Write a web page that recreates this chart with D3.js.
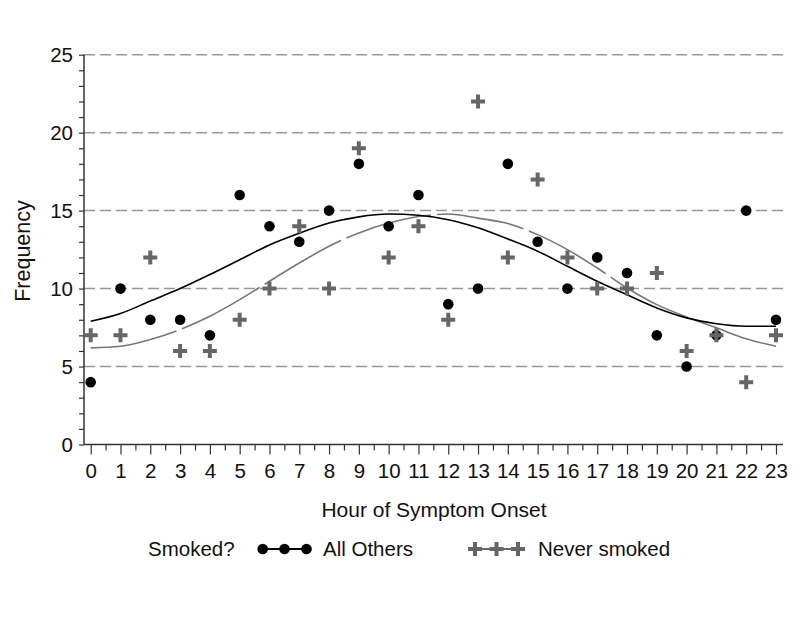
<!DOCTYPE html>
<html>
<head>
<meta charset="utf-8">
<script src="https://cdn.jsdelivr.net/npm/d3@7"></script>
<style>
  html, body { margin: 0; padding: 0; background: #fff; }
  svg { display: block; font-family: "Liberation Sans", Arial, sans-serif; }
</style>
</head>
<body>
<svg id="chart" width="800" height="618"></svg>
<script>
// ---- data ----
const hours = d3.range(0, 24);
const allOthers = [4, 10, 8, 8, 7, 16, 14, 13, 15, 18, 14, 16, 9, 10, 18, 13, 10, 12, 11, 7, 5, 7, 15, 8];
const neverSmoked = [7, 7, 12, 6, 6, 8, 10, 14, 10, 19, 12, 14, 8, 22, 12, 17, 12, 10, 10, 11, 6, 7, 4, 7];
// smoothed fits
const allOthersFit = [7.9, 8.4, 9.2, 10.0, 10.9, 11.85, 12.8, 13.55, 14.2, 14.6, 14.78, 14.7, 14.42, 13.9, 13.18, 12.4, 11.43, 10.47, 9.6, 8.76, 8.12, 7.74, 7.58, 7.58];
const neverSmokedFit = [6.2, 6.3, 6.73, 7.37, 8.22, 9.29, 10.47, 11.64, 12.71, 13.57, 14.2, 14.62, 14.78, 14.52, 14.17, 13.46, 12.5, 11.32, 10.04, 8.97, 8.18, 7.48, 6.78, 6.3];
const yTicks = [0, 5, 10, 15, 20, 25];
const yMinorTicks = d3.range(0, 26);
const xMinorTicks = d3.range(0, 23.01, 0.5);

const svg = d3.select("#chart");
const x = d3.scaleLinear().domain([0, 23]).range([90.7, 776]);
const y = d3.scaleLinear().domain([0, 25]).range([444.5, 54.7]);
const axisLeft = 84, axisRight = 783;
const grayMark = "#666666";
const textColor = "#111";

// gridlines
svg.append("g").selectAll("line").data(yTicks.filter(d => d > 0)).join("line")
  .attr("x1", axisLeft).attr("x2", axisRight)
  .attr("y1", d => y(d)).attr("y2", d => y(d))
  .attr("stroke", "#999").attr("stroke-width", 1.5)
  .attr("stroke-dasharray", "11,5");

// y axis
const yAxis = svg.append("g").attr("transform", `translate(${axisLeft},0)`)
  .call(d3.axisLeft(y).tickValues(yMinorTicks).tickSize(5).tickFormat(() => ""));
yAxis.select(".domain").attr("stroke", "#333").attr("stroke-width", 1.5).attr("d", `M0,${y(0)}V${y(25)}`);
yAxis.selectAll(".tick line").attr("stroke", "#333").attr("stroke-width", 1.2);
svg.append("g").selectAll("text").data(yTicks).join("text")
  .attr("x", 73).attr("y", d => y(d)).attr("dy", "0.36em")
  .attr("text-anchor", "end").attr("font-size", 20.5).attr("fill", textColor)
  .text(d => d);

// x axis
const xAxisG = svg.append("g").attr("transform", `translate(0,${y(0)})`);
xAxisG.append("line").attr("x1", axisLeft).attr("x2", axisRight).attr("y1", 0).attr("y2", 0)
  .attr("stroke", "#333").attr("stroke-width", 1.5);
xAxisG.call(g => g.append("g").call(d3.axisBottom(x).tickValues(xMinorTicks.filter(d => d % 1 !== 0)).tickSize(6).tickFormat(() => ""))
  .call(a => { a.select(".domain").remove(); a.selectAll(".tick line").attr("stroke", "#333").attr("stroke-width", 1.2); }));
xAxisG.call(g => g.append("g").call(d3.axisBottom(x).tickValues(hours).tickSize(10).tickPadding(9).tickFormat(d => d))
  .call(a => {
    a.select(".domain").remove();
    a.selectAll(".tick line").attr("stroke", "#333").attr("stroke-width", 1.2);
    a.selectAll(".tick text").attr("font-size", 20.5).attr("fill", textColor)
      .attr("font-family", "Liberation Sans, Arial, sans-serif");
  }));

// axis titles
svg.append("text").attr("x", 434).attr("y", 517).attr("text-anchor", "middle")
  .attr("font-size", 21).attr("fill", textColor).text("Hour of Symptom Onset");
svg.append("text").attr("transform", "translate(30,251) rotate(-90)").attr("text-anchor", "middle")
  .attr("font-size", 21.5).attr("fill", textColor).text("Frequency");

// fit curves
const line = d3.line().x((d, i) => x(hours[i])).y(d => y(d)).curve(d3.curveMonotoneX);
svg.append("path").attr("d", line(neverSmokedFit)).attr("fill", "none")
  .attr("stroke", "#777").attr("stroke-width", 1.6).attr("stroke-dasharray", "88,6");
svg.append("path").attr("d", line(allOthersFit)).attr("fill", "none")
  .attr("stroke", "#000").attr("stroke-width", 1.6);

// cross marker path
function crossPath(cx, cy, r) {
  return `M${cx - r},${cy}H${cx + r}M${cx},${cy - r}V${cy + r}`;
}

// points
svg.append("g").selectAll("circle").data(allOthers).join("circle")
  .attr("cx", (d, i) => x(hours[i])).attr("cy", d => y(d)).attr("r", 5.3).attr("fill", "#000");
svg.append("g").selectAll("path").data(neverSmoked).join("path")
  .attr("d", (d, i) => crossPath(x(hours[i]), y(d), 7))
  .attr("stroke", grayMark).attr("stroke-width", 4).attr("fill", "none");

// legend
const ly = 549;
svg.append("text").attr("x", 148).attr("y", ly).attr("dy", "0.36em").attr("font-size", 20.5).attr("fill", textColor).text("Smoked?");
const legendA = [262.7, 284.5, 306.5];
svg.append("line").attr("x1", legendA[0]).attr("x2", legendA[2]).attr("y1", ly).attr("y2", ly).attr("stroke", "#000").attr("stroke-width", 2);
svg.append("g").selectAll("circle").data(legendA).join("circle")
  .attr("cx", d => d).attr("cy", ly).attr("r", 5.3).attr("fill", "#000");
svg.append("text").attr("x", 323).attr("y", ly).attr("dy", "0.36em").attr("font-size", 20.5).attr("fill", textColor).text("All Others");
const legendB = [475, 496.5, 518];
svg.append("line").attr("x1", legendB[0]).attr("x2", legendB[2]).attr("y1", ly).attr("y2", ly).attr("stroke", grayMark).attr("stroke-width", 2);
svg.append("g").selectAll("path").data(legendB).join("path")
  .attr("d", d => crossPath(d, ly, 7)).attr("stroke", grayMark).attr("stroke-width", 4).attr("fill", "none");
svg.append("text").attr("x", 538).attr("y", ly).attr("dy", "0.36em").attr("font-size", 20.5).attr("fill", textColor).text("Never smoked");
</script>
</body>
</html>
